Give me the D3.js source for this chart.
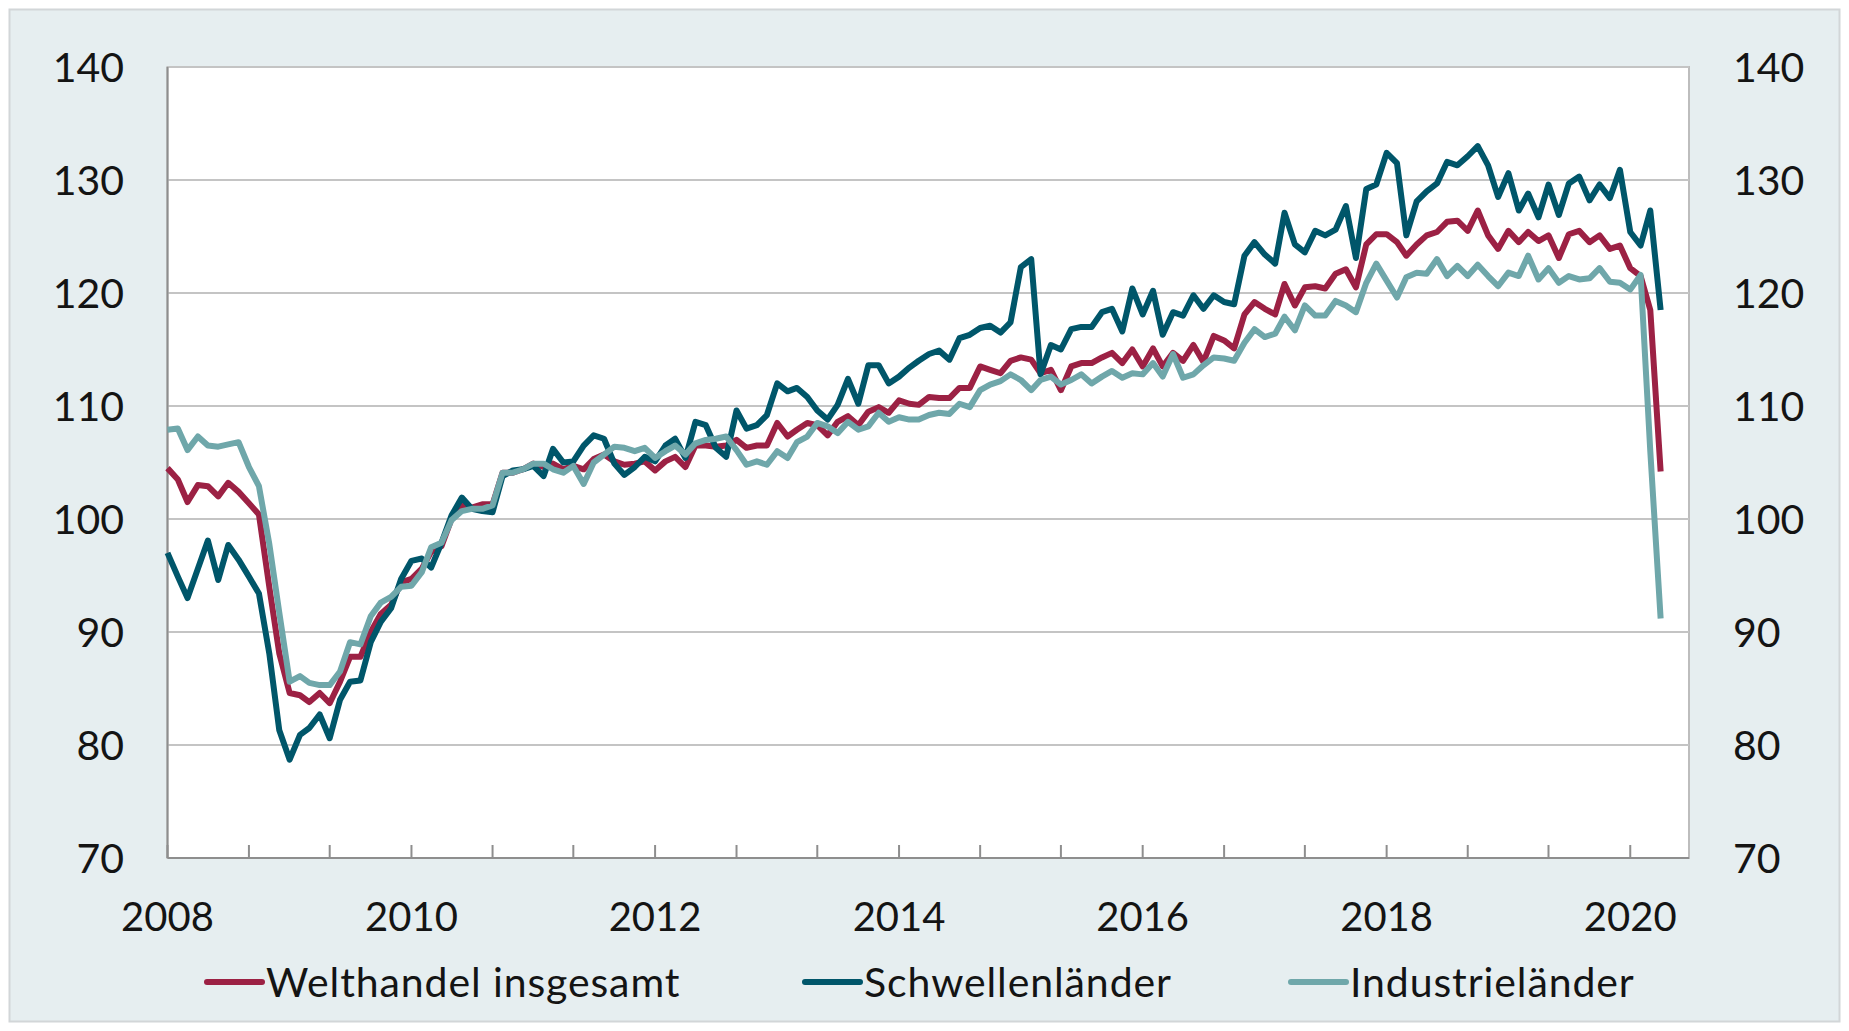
<!DOCTYPE html>
<html>
<head>
<meta charset="utf-8">
<script src="https://cdn.jsdelivr.net/npm/d3@7"></script>
<style>
  html, body { margin: 0; padding: 0; background: #ffffff; }
  svg text { font-family: Lato, "Open Sans", sans-serif; fill: #141414; }
</style>
</head>
<body>
<div id="box-line"></div>
<script>
// monthly index values, Jan 2008 .. Apr 2020
var welthandel = [
  104.5, 103.5, 101.5, 103.0, 102.9, 102.0, 103.2, 102.4, 101.4, 100.4, 94.0, 88.1,
  84.6, 84.4, 83.8, 84.6, 83.7, 85.6, 87.8, 87.8, 90.0, 91.6, 92.4, 94.4,
  94.7, 95.6, 97.1, 97.6, 100.0, 101.2, 101.0, 101.3, 101.3, 104.1, 104.1, 104.4,
  104.9, 104.6, 104.9, 104.4, 104.7, 104.4, 105.3, 105.7, 105.1, 104.8, 104.9, 105.1,
  104.3, 105.1, 105.5, 104.6, 106.5, 106.5, 106.4, 106.5, 107.0, 106.3, 106.5, 106.5,
  108.5, 107.3, 107.9, 108.5, 108.3, 107.4, 108.6, 109.1, 108.3, 109.5, 109.9, 109.4,
  110.5, 110.2, 110.1, 110.8, 110.7, 110.7, 111.6, 111.6, 113.5, 113.2, 112.9, 114.0,
  114.3, 114.1, 112.9, 113.2, 111.4, 113.5, 113.8, 113.8, 114.3, 114.7, 113.8, 115.0,
  113.5, 115.1, 113.5, 114.7, 114.0, 115.4, 113.9, 116.2, 115.8, 115.1, 118.1, 119.2,
  118.6, 118.1, 120.8, 118.9, 120.5, 120.6, 120.4, 121.7, 122.1, 120.5, 124.3, 125.2,
  125.2, 124.5, 123.3, 124.3, 125.1, 125.4, 126.3, 126.4, 125.5, 127.3, 125.1, 123.9,
  125.5, 124.5, 125.4, 124.6, 125.1, 123.1, 125.2, 125.5, 124.5, 125.1, 123.9, 124.2,
  122.2, 121.5, 118.5, 104.2
];
var schwellen = [
  97.0, 94.9, 93.0, 95.6, 98.1, 94.6, 97.7, 96.4, 94.9, 93.4, 88.1, 81.3,
  78.7, 80.9, 81.5, 82.7, 80.6, 84.0, 85.6, 85.7, 89.1, 90.9, 92.1, 94.7,
  96.3, 96.5, 95.7, 97.9, 100.3, 101.9, 100.9, 100.7, 100.6, 103.8, 104.3, 104.4,
  104.7, 103.8, 106.2, 105.0, 105.1, 106.5, 107.4, 107.1, 104.9, 103.9, 104.6, 105.5,
  105.1, 106.5, 107.1, 105.4, 108.6, 108.3, 106.3, 105.5, 109.6, 108.0, 108.3, 109.2,
  112.0, 111.3, 111.6, 110.8, 109.6, 108.8, 110.1, 112.4, 110.2, 113.6, 113.6, 112.0,
  112.6, 113.4, 114.0, 114.6, 114.9, 114.1, 116.0, 116.3, 116.9, 117.1, 116.5, 117.4,
  122.3, 123.0, 112.8, 115.4, 115.0, 116.8, 117.0, 117.0, 118.3, 118.6, 116.6, 120.4,
  118.1, 120.2, 116.3, 118.3, 118.0, 119.8, 118.6, 119.8, 119.2, 119.0, 123.3, 124.5,
  123.4, 122.6, 127.1, 124.3, 123.6, 125.5, 125.1, 125.6, 127.7, 123.1, 129.2, 129.6,
  132.4, 131.5, 125.1, 128.1, 129.0, 129.7, 131.6, 131.3, 132.1, 133.0, 131.3, 128.5,
  130.6, 127.3, 128.8, 126.7, 129.6, 126.9, 129.7, 130.3, 128.2, 129.6, 128.4, 130.9,
  125.4, 124.2, 127.3, 118.5
];
var industrie = [
  107.9, 108.0, 106.1, 107.3, 106.5, 106.4, 106.6, 106.8, 104.6, 102.9, 97.8, 91.7,
  85.6, 86.1, 85.5, 85.3, 85.3, 86.5, 89.1, 88.9, 91.4, 92.6, 93.1, 94.0,
  94.1, 95.3, 97.5, 97.9, 99.9, 100.7, 100.9, 100.9, 101.2, 104.1, 104.1, 104.4,
  104.9, 104.9, 104.4, 104.1, 104.7, 103.1, 105.0, 105.7, 106.4, 106.3, 106.0, 106.3,
  105.4, 106.0, 106.5, 105.7, 106.7, 107.0, 107.1, 107.3, 106.1, 104.8, 105.1, 104.8,
  106.0, 105.4, 106.8, 107.3, 108.5, 108.2, 107.6, 108.6, 107.9, 108.2, 109.4, 108.6,
  109.0, 108.8, 108.8, 109.2, 109.4, 109.3, 110.2, 109.9, 111.4, 111.9, 112.2, 112.8,
  112.3, 111.4, 112.3, 112.6, 111.9, 112.3, 112.8, 112.0, 112.6, 113.1, 112.5, 112.9,
  112.8, 113.8, 112.6, 114.6, 112.5, 112.8, 113.6, 114.3, 114.2, 114.0, 115.6, 116.8,
  116.1, 116.4, 117.9, 116.7, 118.9, 118.0, 118.0, 119.3, 118.9, 118.3, 120.9, 122.6,
  121.1, 119.6, 121.4, 121.8, 121.7, 123.0, 121.5, 122.4, 121.5, 122.5, 121.5, 120.6,
  121.8, 121.5, 123.3, 121.2, 122.2, 120.9, 121.5, 121.2, 121.3, 122.2, 121.0, 120.9,
  120.3, 121.6, 106.0, 91.2
];
var seriesNames = ["Welthandel insgesamt", "Schwellenländer", "Industrieländer"];
var yTicks = [70, 80, 90, 100, 110, 120, 130, 140];
var xLabels = ["2008", "2010", "2012", "2014", "2016", "2018", "2020"];

var months = d3.utcMonth.range(new Date(Date.UTC(2008, 0, 1)), new Date(Date.UTC(2020, 4, 1)));

var color = d3.scaleOrdinal()
  .domain(seriesNames)
  .range(["#9c2144", "#00566a", "#6fa7aa"]);

var width = 1849,
  height = 1031;

var svg = d3.select("#box-line").append("svg")
  .attr("width", width)
  .attr("height", height);

// panel background
svg.append("rect")
  .attr("x", 9.5).attr("y", 9.5)
  .attr("width", 1830).attr("height", 1012)
  .attr("fill", "#e6eef0")
  .attr("stroke", "#d2d6d8")
  .attr("stroke-width", 2);

var plot = {left: 167.5, right: 1689, top: 67, bottom: 858};

var x = d3.scaleUtc()
  .domain([new Date(Date.UTC(2008, 0, 1)), new Date(Date.UTC(2020, 5, 25))])
  .range([plot.left, plot.right]);

var y = d3.scaleLinear()
  .domain([70, 140])
  .range([plot.bottom, plot.top]);

svg.append("rect")
  .attr("x", plot.left).attr("y", plot.top)
  .attr("width", plot.right - plot.left)
  .attr("height", plot.bottom - plot.top)
  .attr("fill", "#ffffff")
  .attr("stroke", "#bdbdbd")
  .attr("stroke-width", 2);

// horizontal grid
svg.append("g").selectAll("line")
  .data(yTicks.slice(1))
  .enter().append("line")
  .attr("x1", plot.left).attr("x2", plot.right)
  .attr("y1", function(d){ return y(d); })
  .attr("y2", function(d){ return y(d); })
  .attr("stroke", "#c4c4c4")
  .attr("stroke-width", 2);

// axis lines
svg.append("line")
  .attr("x1", plot.left).attr("x2", plot.left)
  .attr("y1", plot.top).attr("y2", plot.bottom)
  .attr("stroke", "#8e8e8e").attr("stroke-width", 2);
svg.append("line")
  .attr("x1", plot.left).attr("x2", plot.right)
  .attr("y1", plot.bottom).attr("y2", plot.bottom)
  .attr("stroke", "#8e8e8e").attr("stroke-width", 2);

// x ticks every 8 months, pointing inward
var tickDates = d3.utcMonth.range(new Date(Date.UTC(2008, 0, 1)), new Date(Date.UTC(2020, 1, 1)), 8);
svg.append("g").selectAll("line")
  .data(tickDates)
  .enter().append("line")
  .attr("x1", function(d){ return x(d); })
  .attr("x2", function(d){ return x(d); })
  .attr("y1", plot.bottom)
  .attr("y2", plot.bottom - 13)
  .attr("stroke", "#8e8e8e")
  .attr("stroke-width", 2);

// x labels
svg.append("g").selectAll("text")
  .data(xLabels)
  .enter().append("text")
  .attr("x", function(d){ return x(new Date(Date.UTC(+d, 0, 1))); })
  .attr("y", 931)
  .attr("text-anchor", "middle")
  .style("font-size", "40px")
  .text(function(d){ return d; });

// y labels both sides
svg.append("g").selectAll("text")
  .data(yTicks)
  .enter().append("text")
  .attr("x", 124)
  .attr("y", function(d){ return y(d); })
  .attr("dy", "0.36em")
  .attr("text-anchor", "end")
  .style("font-size", "41px")
  .text(function(d){ return d; });
svg.append("g").selectAll("text")
  .data(yTicks)
  .enter().append("text")
  .attr("x", 1733)
  .attr("y", function(d){ return y(d); })
  .attr("dy", "0.36em")
  .attr("text-anchor", "start")
  .style("font-size", "41px")
  .text(function(d){ return d; });

var series = [
  {name: seriesNames[0], values: welthandel},
  {name: seriesNames[1], values: schwellen},
  {name: seriesNames[2], values: industrie}
];

var line = d3.line()
  .x(function(d, i){ return x(months[i]); })
  .y(function(d){ return y(d); });

svg.append("g").selectAll("path")
  .data(series)
  .enter().append("path")
  .attr("d", function(d){ return line(d.values); })
  .attr("fill", "none")
  .attr("stroke", function(d){ return color(d.name); })
  .attr("stroke-width", 6)
  .attr("stroke-linejoin", "round");

// legend
var legendX = [207, 805, 1291];
var legend = svg.append("g").selectAll("g")
  .data(series)
  .enter().append("g")
  .attr("transform", function(d, i){ return "translate(" + legendX[i] + ",982)"; });
legend.append("line")
  .attr("x1", 0).attr("x2", 55)
  .attr("stroke", function(d){ return color(d.name); })
  .attr("stroke-width", 6)
  .attr("stroke-linecap", "round");
legend.append("text")
  .attr("x", 59)
  .attr("dy", "0.36em")
  .style("font-size", "41px")
  .style("letter-spacing", "0.9px")
  .text(function(d){ return d.name; });
</script>
</body>
</html>
